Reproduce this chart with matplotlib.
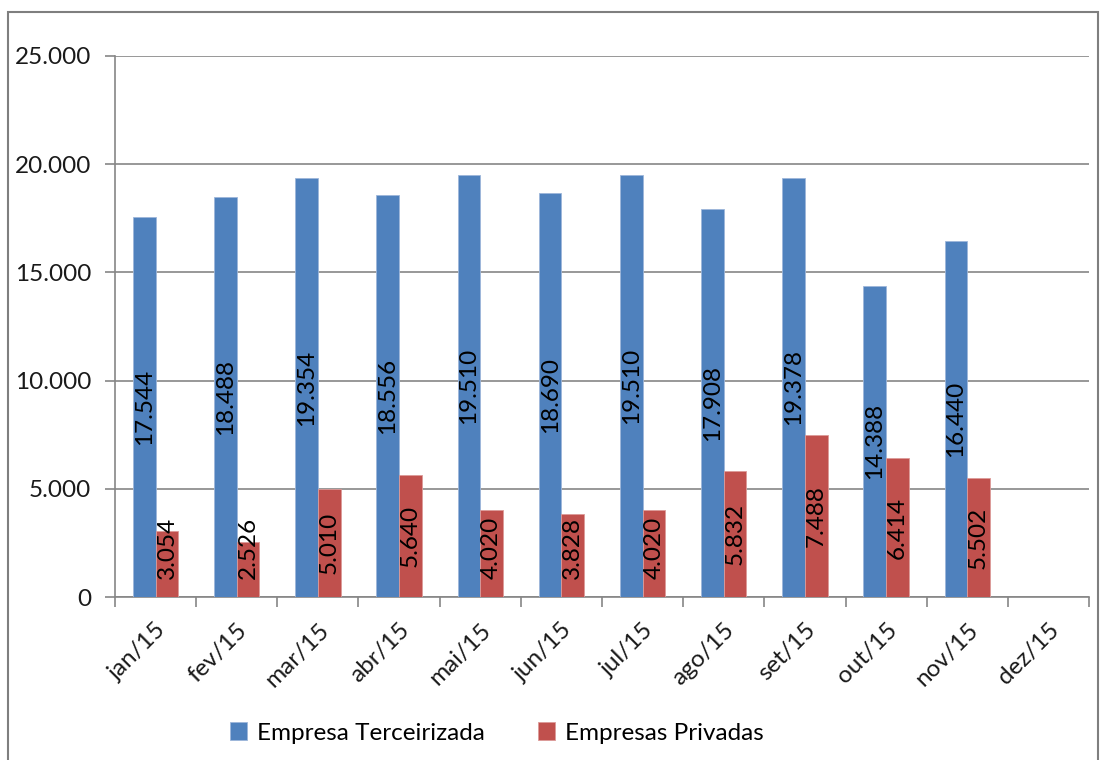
import matplotlib
matplotlib.use("Agg")
import matplotlib.pyplot as plt
import numpy as np
from matplotlib.patches import Rectangle
from matplotlib.ticker import FuncFormatter, FixedLocator

plt.rcParams["font.family"] = ["Lato", "DejaVu Sans"]

# ---------------------------------------------------------------------------
# Data
# ---------------------------------------------------------------------------
months = ["jan/15", "fev/15", "mar/15", "abr/15", "mai/15", "jun/15",
          "jul/15", "ago/15", "set/15", "out/15", "nov/15", "dez/15"]
terceirizada = [17544, 18488, 19354, 18556, 19510, 18690,
                19510, 17908, 19378, 14388, 16440, np.nan]
privadas = [3054, 2526, 5010, 5640, 4020, 3828,
            4020, 5832, 7488, 6414, 5502, np.nan]

BLUE = "#4F81BD"
RED = "#C0504D"
GRID = "#868686"

W, H = 1105, 760
fig = plt.figure(figsize=(W / 100, H / 100), dpi=100)

# outer chart-area border
fig.patches.append(Rectangle((8 / W, -0.05), (1098 - 8) / W, 1.05 - 12 / H,
                             transform=fig.transFigure, fill=False,
                             edgecolor="#7f7f7f", linewidth=1.5))

ax = fig.add_axes([115 / W, (H - 597) / H, (1089 - 115) / W, (597 - 56) / H])

x = np.arange(len(months))
width = 0.28
ax.bar(x - width / 2, terceirizada, width, color=BLUE, edgecolor="#9db6da",
       linewidth=0.6, label="Empresa Terceirizada", zorder=3)
ax.bar(x + width / 2, privadas, width, color=RED, edgecolor="#dc9a98",
       linewidth=0.6, label="Empresas Privadas", zorder=3)

def fmt(v):
    return f"{int(v):,}".replace(",", ".")

# rotated value labels, centred in the bar (pushed up a bit for short bars)
for xi, v in zip(x, terceirizada):
    if np.isnan(v):
        continue
    ax.text(xi - width / 2, max(v / 2, 2250), fmt(v), rotation=90,
            ha="center", va="center", fontsize=17.5, color="black", zorder=4)
for xi, v in zip(x, privadas):
    if np.isnan(v):
        continue
    ax.text(xi + width / 2, max(v / 2, 2250), fmt(v), rotation=90,
            ha="center", va="center", fontsize=17.5, color="black", zorder=4)

ax.set_xlim(-0.5, len(months) - 0.5)
ax.set_ylim(0, 25000)
ax.set_yticks(np.arange(0, 25001, 5000))
ax.yaxis.set_major_formatter(FuncFormatter(lambda v, p: fmt(v)))
ax.grid(axis="y", color=GRID, linewidth=1.2, zorder=0)

ax.set_xticks(x)
ax.set_xticklabels(months, rotation=45, ha="right", rotation_mode="anchor",
                   fontsize=17.5)
ax.tick_params(axis="x", which="major", length=0, pad=16)
ax.xaxis.set_minor_locator(FixedLocator(np.arange(-0.5, len(months), 1.0)))
ax.tick_params(axis="x", which="minor", length=7, width=1.2, color=GRID,
               direction="out")
ax.tick_params(axis="y", length=7, width=1.2, color=GRID, pad=10,
               labelsize=17.5, labelcolor="#1a1a1a")
ax.tick_params(axis="x", labelcolor="#1a1a1a")

for s in ["top", "right"]:
    ax.spines[s].set_visible(False)
for s in ["left", "bottom"]:
    ax.spines[s].set_color(GRID)
    ax.spines[s].set_linewidth(1.2)

fig.legend(loc="center", bbox_to_anchor=(497 / W, 1 - 733 / H), ncol=2,
           frameon=False, fontsize=17.5, handlelength=0.7, handleheight=0.7,
           handletextpad=0.4, columnspacing=2.2)

fig.savefig("out.png", dpi=100)
